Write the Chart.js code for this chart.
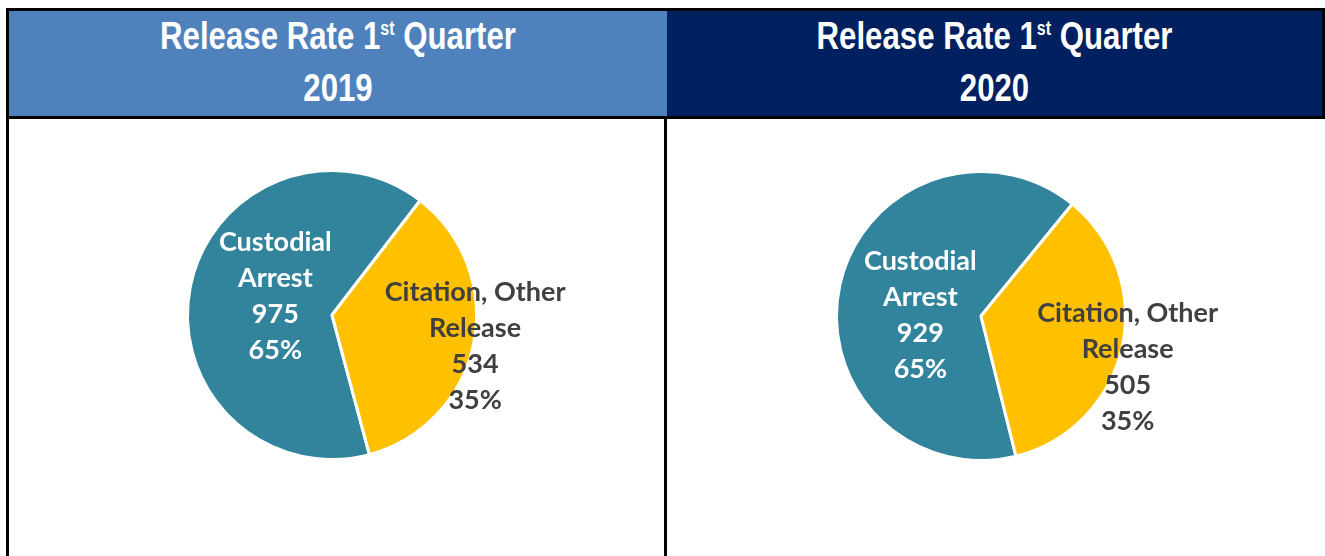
<!DOCTYPE html>
<html>
<head>
<meta charset="utf-8">
<script src="https://cdn.jsdelivr.net/npm/chart.js@4.4.1/dist/chart.umd.min.js"></script>
<style>
  html, body { margin: 0; padding: 0; background: #fff; }
  #page { position: relative; width: 1325px; height: 556px; overflow: hidden; }
  .head {
    position: absolute; top: 8px; height: 105px;
    border: 3px solid #000; box-sizing: content-box;
    color: #fff; text-align: center;
    font-family: "Liberation Sans", sans-serif;
    font-weight: bold; font-size: 39px;
  }
  .head .l1, .head .l2 {
    position: absolute; left: 0; right: 0; line-height: 44px;
    transform: scaleX(0.8); transform-origin: center;
  }
  .head .l1 { top: 3px; }
  .head .l2 { top: 55px; }
  .head sup { font-size: 20px; vertical-align: 0; position: relative; top: -14px; }
  #h1 { left: 6px; width: 658px; background: #4F81BD; }
  #h2 { left: 667px; width: 655px; background: #002060; border-left: 0; }
  .vline { position: absolute; background: #000; }
  canvas { position: absolute; }
</style>
</head>
<body>
<div id="page">
  <div class="head" id="h1"><div class="l1">Release Rate 1<sup>st</sup> Quarter</div><div class="l2">2019</div></div>
  <div class="head" id="h2"><div class="l1">Release Rate 1<sup>st</sup> Quarter</div><div class="l2">2020</div></div>
  <div class="vline" style="left:6px; top:116px; width:3px; height:440px;"></div>
  <div class="vline" style="left:664px; top:116px; width:3px; height:440px;"></div>
  <canvas id="pie2019" width="655" height="440" style="left:9px; top:116px;"></canvas>
  <canvas id="pie2020" width="655" height="440" style="left:667px; top:116px;"></canvas>
</div>
<script>
// categories (one line per array entry)
const categories = [['Custodial', 'Arrest'], ['Citation, Other', 'Release']];
// counts per quarter
const values2019 = [975, 534];
const values2020 = [929, 505];
const sliceColors = ['#31849B', '#FFC000'];
const labelColors = ['#FFFFFF', '#404040'];

// draws "label / value / percent" for each slice
const sliceLabels = {
    id: 'sliceLabels',
    afterDatasetsDraw(chart, args, opts) {
        const ctx = chart.ctx;
        const data = chart.data.datasets[0].data;
        const total = data.reduce((a, b) => a + b, 0);
        const meta = chart.getDatasetMeta(0);
        ctx.save();
        ctx.font = 'bold 27px Lato, "Open Sans", sans-serif';
        ctx.textAlign = 'center';
        ctx.textBaseline = 'middle';
        meta.data.forEach((arc, i) => {
            const p = arc.getProps(['x', 'y', 'startAngle', 'endAngle', 'outerRadius'], true);
            const mid = (p.startAngle + p.endAngle) / 2;
            const r = p.outerRadius * opts.radius[i];
            const cx = p.x + Math.cos(mid) * r;
            const cy = p.y + Math.sin(mid) * r + opts.dy[i];
            const lines = [...chart.data.labels[i], String(data[i]), Math.round(data[i] / total * 100) + '%'];
            ctx.fillStyle = labelColors[i];
            const lh = 36;
            lines.forEach((t, k) => {
                ctx.fillText(t, cx, cy + (k - (lines.length - 1) / 2) * lh);
            });
        });
        ctx.restore();
    }
};

function makePie(id, values, rotation, padding, labelPos) {
    return new Chart(document.getElementById(id), {
        type: 'pie',
        data: {
            labels: categories,
            datasets: [{
                data: values,
                backgroundColor: sliceColors,
                borderColor: '#FFFFFF',
                borderWidth: 3
            }]
        },
        options: {
            responsive: false,
            animation: false,
            rotation: rotation,
            layout: { padding: padding },
            plugins: {
                legend: { display: false },
                tooltip: { enabled: false },
                sliceLabels: labelPos
            }
        },
        plugins: [sliceLabels]
    });
}

makePie('pie2019', values2019, 165,
    { left: 177, top: 53, right: 186, bottom: 95 },
    { radius: [0.4, 1.01], dy: [-7, 3] });
makePie('pie2020', values2020, 166,
    { left: 168, top: 54, right: 195, bottom: 94 },
    { radius: [0.43, 1.04], dy: [13, 18] });
</script>
</body>
</html>
